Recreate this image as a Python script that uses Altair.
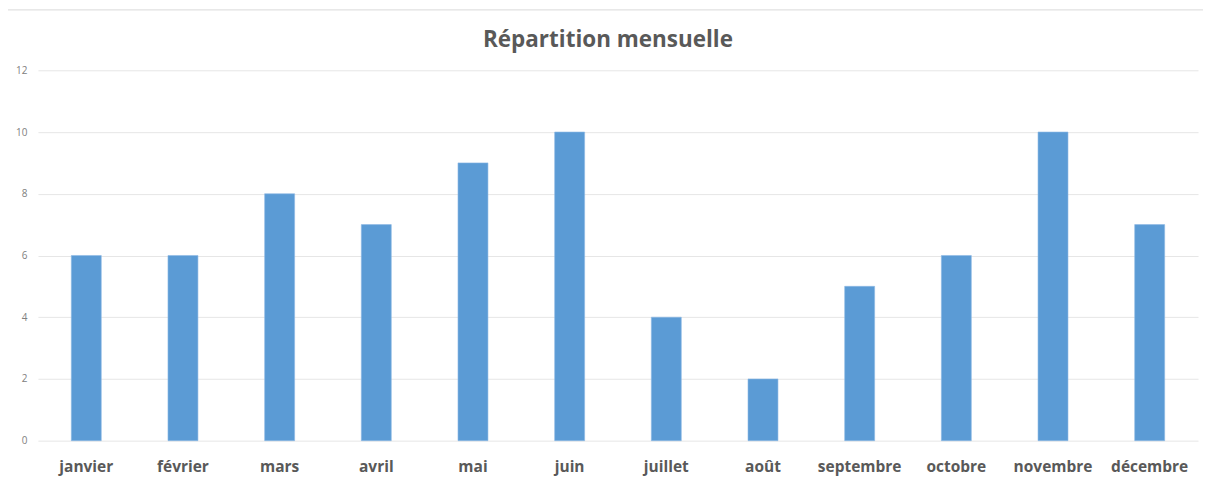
import altair as alt
import pandas as pd

months = ["janvier", "février", "mars", "avril", "mai", "juin",
          "juillet", "août", "septembre", "octobre", "novembre", "décembre"]
counts = [6, 6, 8, 7, 9, 10, 4, 2, 5, 6, 10, 7]
y_ticks = [0, 2, 4, 6, 8, 10, 12]

df = pd.DataFrame({"mois": months, "nombre": counts})

FONT = "Open Sans"

bars = alt.Chart(df).mark_bar(color="#5B9BD5", stroke="#8DB9E4", strokeWidth=0.6).encode(
    x=alt.X("mois:N", sort=None, title=None,
            scale=alt.Scale(paddingInner=0.69, paddingOuter=0.345),
            axis=alt.Axis(labelAngle=0, labelFont=FONT, labelFontSize=15.5,
                          labelFontWeight="bold", labelColor="#595959",
                          labelPadding=19, ticks=False, domain=False, grid=False)),
    y=alt.Y("nombre:Q", title=None,
            scale=alt.Scale(domain=[0, 12], nice=False),
            axis=alt.Axis(values=y_ticks, labelFont=FONT, labelFontSize=10,
                          labelColor="#808080", labelPadding=11, ticks=False,
                          domain=False, gridColor="#E6E6E6", gridWidth=1)),
)

border_left = alt.Chart().mark_rule(stroke="#CFCFCF", strokeWidth=1.5).encode(
    x=alt.value(-35), y=alt.value(-60.5), y2=alt.value(420),
)
border_top = alt.Chart().mark_rule(stroke="#D9D9D9", strokeWidth=1).encode(
    x=alt.value(-35), x2=alt.value(1200), y=alt.value(-60.5),
)

chart = alt.layer(border_left, border_top, bars).properties(
    width=1162, height=371,
    title=alt.TitleParams("Répartition mensuelle", font=FONT, fontSize=22.5,
                          fontWeight="bold", color="#595959",
                          anchor="middle", frame="group", dx=-10, offset=-42),
    autosize=alt.AutoSizeParams(type="none"),
    padding={"left": 30, "top": 62, "right": 5, "bottom": 35},
).configure(background="white").configure_view(stroke=None)

chart.save("out.html", embed_options={"renderer": "svg", "actions": False})
